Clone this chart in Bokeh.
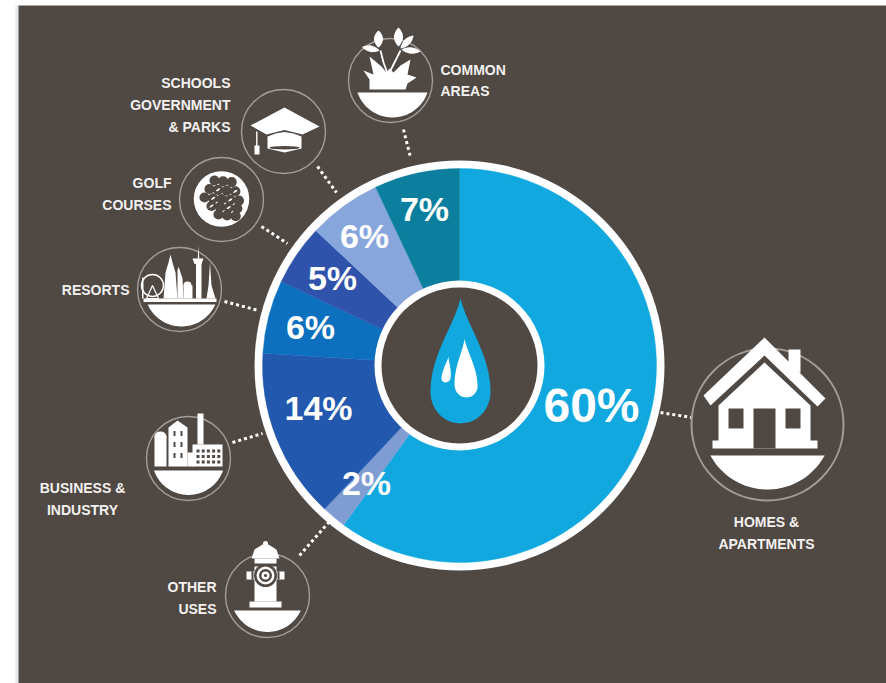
import numpy as np
from bokeh.core.properties import value
from bokeh.embed import file_html
from bokeh.models import Range1d
from bokeh.plotting import figure
from bokeh.resources import INLINE

# Share of water use by sector, clockwise from twelve o'clock
sectors = ["Homes & Apartments", "Other Uses", "Business & Industry", "Resorts",
           "Golf Courses", "Schools Government & Parks", "Common Areas"]
shares = [60, 2, 14, 6, 5, 6, 7]
share_colors = ["#10a8de", "#7f9cd3", "#2258ae", "#0c70bf", "#2f53aa", "#87a7dc", "#0c7f9e"]
share_label_x = [591, 366, 318, 310, 332, 364, 424]
share_label_y = [405, 482, 407, 326, 277, 235, 208]
share_label_size = [48, 34, 34, 34, 34, 34, 34]

# Caption lines: text, x, y, alignment
captions = [
    ("COMMON", 440, 69, "left"), ("AREAS", 440, 90, "left"),
    ("SCHOOLS", 230, 82, "right"), ("GOVERNMENT", 230, 104, "right"), ("& PARKS", 230, 126, "right"),
    ("GOLF", 171, 182, "right"), ("COURSES", 171, 204, "right"),
    ("RESORTS", 129, 289, "right"),
    ("BUSINESS &", 82, 487, "center"), ("INDUSTRY", 82, 509, "center"),
    ("OTHER", 216, 586, "right"), ("USES", 216, 608, "right"),
    ("HOMES &", 766, 521, "center"), ("APARTMENTS", 766, 543, "center"),
]

# Icon badges: centre x, centre y, radius
badges = {
    "common": (390, 80, 42), "schools": (283, 131, 42), "golf": (221, 199, 42),
    "resorts": (179, 289, 42), "business": (188, 458, 42), "other": (267, 595, 42),
    "homes": (767, 424, 76),
}
# Dotted leader lines between badge and ring
leaders = [
    (403, 129, 410, 157), (317, 166, 336, 192), (261, 226, 287, 243), (224, 301, 258, 310),
    (232, 442, 262, 433), (299, 555, 328, 522), (660, 412, 691, 417),
]

BG = "#4f4843"
WHITE = "#ffffff"
RING = "#a39d99"
INK = "#f3f1ef"
H = 683
CX, CY = 459, 365

p = figure(width=886, height=H, x_range=Range1d(0, 886), y_range=Range1d(0, H),
           toolbar_location=None, output_backend="svg", min_border=0,
           background_fill_color=WHITE, border_fill_color=WHITE, outline_line_color=None)
p.axis.visible = False
p.grid.visible = False


def Y(v):
    return H - np.asarray(v, dtype=float)


def poly(pts, color=WHITE):
    xs, ys = zip(*pts)
    p.patch(list(xs), list(Y(ys)), fill_color=color, line_color=None)


def rect(x0, y0, x1, y1, color=WHITE):
    p.quad(left=[x0], right=[x1], top=[H - y0], bottom=[H - y1], fill_color=color, line_color=None)


def disc(x, y, r, color=WHITE):
    p.circle(x=[x], y=[H - y], radius=r, fill_color=color, line_color=None)


def bowl(cx, cy, offset, radius):
    # Segment of a circle under a flat chord, the "ground" of each badge
    a = np.arcsin(offset / radius)
    t = np.linspace(a, np.pi - a, 40)
    poly(list(zip(cx + radius * np.cos(t), cy + radius * np.sin(t))))


def leaf(x0, y0, x1, y1, w):
    dx, dy = x1 - x0, y1 - y0
    n = np.hypot(dx, dy)
    nx, ny = -dy / n, dx / n
    s = np.linspace(0, 1, 14)
    b = w * np.sin(np.pi * s) ** 0.8
    left = [(x0 + dx * t + nx * q, y0 + dy * t + ny * q) for t, q in zip(s, b)]
    right = [(x0 + dx * t - nx * q, y0 + dy * t - ny * q) for t, q in zip(s[::-1], b[::-1])]
    poly(left + right)


def drop(cx, tip, bottom, half, color, lean=0.0):
    # Teardrop: semicircular belly under a tapering point
    belly = bottom - half * 1.05
    top = np.linspace(0, 1, 40)
    low = np.linspace(0, 1, 24)[1:]
    ys = np.concatenate([tip + (belly - tip) * top, belly + (bottom - belly) * low])
    ws = np.concatenate([half * np.sin(top * np.pi / 2) ** 1.35, half * np.sqrt(1 - low ** 2)])
    shift = lean * (1 - (ys - tip) / (bottom - tip))
    left = list(zip(cx - ws + shift, ys))
    right = list(zip(cx + ws + shift, ys))
    poly(left + right[::-1], color)


# Panel
rect(15, 5, 18, H, "#e6e6e6")
rect(18, 5, 886, H, BG)

# Leaders and badge outlines
for x0, y0, x1, y1 in leaders:
    p.line([x0, x1], [H - y0, H - y1], line_color=WHITE, line_width=3, line_dash="3 3")
for cx, cy, r in badges.values():
    p.circle(x=[cx], y=[H - cy], radius=r, fill_color=None, line_color=RING,
             line_width=2 if r > 50 else 1.4)

# Donut, built from the shares
disc(CX, CY, 205)
fractions = np.array(shares, dtype=float) / sum(shares)
ends = np.cumsum(fractions)
starts = ends - fractions
p.annular_wedge(x=[CX] * len(shares), y=[H - CY] * len(shares), inner_radius=84, outer_radius=197,
                start_angle=list(np.pi / 2 - 2 * np.pi * starts),
                end_angle=list(np.pi / 2 - 2 * np.pi * ends),
                direction="clock", fill_color=share_colors, line_color=share_colors, line_width=0.4)
disc(CX, CY, 85)
disc(CX, CY, 78, BG)

# Water drop in the hole
drop(460, 297, 423, 30, "#10a8de")
drop(466, 338, 397, 11.5, WHITE, -2)
drop(445, 356, 382, 4.6, WHITE, 3)

# Percent labels
p.text(x=share_label_x, y=list(Y(share_label_y)), text=[f"{s}%" for s in shares],
       text_color=WHITE, text_font=value("Liberation Sans"), text_font_style="bold",
       text_font_size=[f"{s}px" for s in share_label_size],
       text_align="center", text_baseline="middle")

# Captions
for align in ("left", "right", "center"):
    rows = [c for c in captions if c[3] == align]
    p.text(x=[c[1] for c in rows], y=[H - c[2] for c in rows], text=[c[0] for c in rows],
           text_color=INK, text_font=value("Liberation Sans"), text_font_style="bold",
           text_font_size="14px", text_align=align, text_baseline="middle")

# Common areas: plant over a bowl
cx, cy, r = badges["common"]
bowl(cx + 2, cy, 12, 37)
poly([(369, 89), (369, 79), (363, 70), (373, 74), (369, 56), (381, 66), (386, 72), (389, 68),
      (393, 72), (400, 65), (410, 59), (407, 74), (416, 77), (407, 83), (405, 89)])
p.line([386.7, 383, 380], list(Y([72, 62, 50])), line_color=WHITE, line_width=1.8)
p.line([390, 394, 400], list(Y([70, 62, 50])), line_color=WHITE, line_width=1.8)
leaf(398, 46, 398, 27, 4.5)
leaf(378, 47, 378, 30, 4.5)
leaf(379, 50, 361.5, 46.5, 3.2)
leaf(400, 48, 413, 35, 3.2)
leaf(401, 49, 420, 51, 3.2)

# Schools: mortarboard
poly([(267, 136), (275, 133), (284, 131.5), (293, 133), (301, 136), (301, 148), (284, 152), (267, 148)])
poly([(250, 125), (284, 107), (319, 126), (302, 134), (284, 129.5), (266, 134)])
p.ellipse(x=[284], y=[H - 147.3], width=30, height=3.4, fill_color=BG, line_color=None)
rect(255.6, 131, 257, 146)
rect(254, 145, 259, 154)

# Golf: dimpled ball
cx, cy, r = badges["golf"]
disc(cx, cy - 0.5, 27.8)
dimple_rows = [(214, 181, 3), (209, 189.5, 4), (204, 198, 5), (211, 206.5, 4), (218, 215, 3)]
dimples = []
for x0, y0, count in dimple_rows:
    dimples += [(x0 + k * 8.6, y0 + k * 0.8 - 1) for k in range(count)]
for dx, dy in dimples:
    disc(dx, dy, 5.1, BG)
for dx, dy in dimples[4:-4:2]:
    leaf(dx - 2.2, dy + 1.5, dx + 2.2, dy - 1.5, 0.9)

# Resorts: skyline with wheel
cx, cy, r = badges["resorts"]
bowl(cx + 2, cy, 15, 37)
poly([(163, 298), (165, 272), (168, 262), (170, 254), (172, 262), (175, 272), (177, 298)])
poly([(177, 298), (177, 270), (178, 266), (182, 278), (183, 298)])
disc(187, 285, 4)
rect(183, 285, 192, 298)
rect(195.5, 262, 201, 298)
poly([(192, 258), (203, 258), (201, 263.5), (194, 263.5)])
poly([(197.2, 258), (198, 245), (198.8, 258)])
poly([(206, 298), (208, 285), (209.5, 262), (211, 285), (215, 298)])
p.circle(x=[152], y=[H - 285], radius=11, fill_color=None, line_color=WHITE, line_width=1.4)
p.line([152, 146, 158, 152], list(Y([285, 298, 298, 285])), line_color=WHITE, line_width=1.2)
rect(143, 298, 216, 301.5)
rect(141.5, 277, 143, 298)

# Business: factory
cx, cy, r = badges["business"]
bowl(cx, cy, 12, 36.5)
rect(154, 436, 166, 466)
p.ellipse(x=[160], y=[H - 436], width=12, height=10, fill_color=WHITE, line_color=None)
poly([(168, 466), (168, 427), (177, 420), (187, 427), (187, 466)])
for wx in (174, 181):
    for wy in (433, 444, 455):
        rect(wx - 1, wy - 2.5, wx + 1, wy + 2.5, BG)
rect(187, 452, 193, 466)
rect(197, 413, 203, 444)
rect(192, 444, 222, 466)
for col in range(5):
    for row in range(3):
        rx, ry = 196 + col * 5.2, 449 + row * 5.5
        rect(rx, ry, rx + 3, ry + 3, BG)

# Other uses: hydrant
cx, cy, r = badges["other"]
bowl(cx, cy, 15, 36.5)
disc(265, 543, 2.5)
poly([(251, 558), (254, 549), (262, 544), (268, 544), (276, 549), (279, 558)])
rect(254, 558, 276, 601)
rect(249, 601, 281, 607)
rect(250, 563, 280, 566, BG)
rect(246, 571, 284, 579)
rect(251, 571, 253, 579, BG)
rect(277, 571, 279, 579, BG)
disc(265, 575, 11.5, BG)
disc(265, 575, 9)
disc(265, 575, 6.5, BG)
disc(265, 575, 4)
disc(265, 575, 1.6, BG)

# Homes: house
cx, cy, r = badges["homes"]
bowl(cx, cy, 31, 65)
rect(788, 349, 800, 372)
poly([(764, 337), (825, 398), (817, 406), (764, 355), (710, 405), (703, 395)])
poly([(764, 362), (718, 405), (718, 440), (712, 440), (712, 448), (817, 448), (817, 440), (810, 440),
      (810, 405)])
rect(728, 408, 743, 428, BG)
rect(785, 408, 800, 428, BG)
rect(753, 408, 775, 448, BG)

open("out.html", "w").write(file_html(p, INLINE))
